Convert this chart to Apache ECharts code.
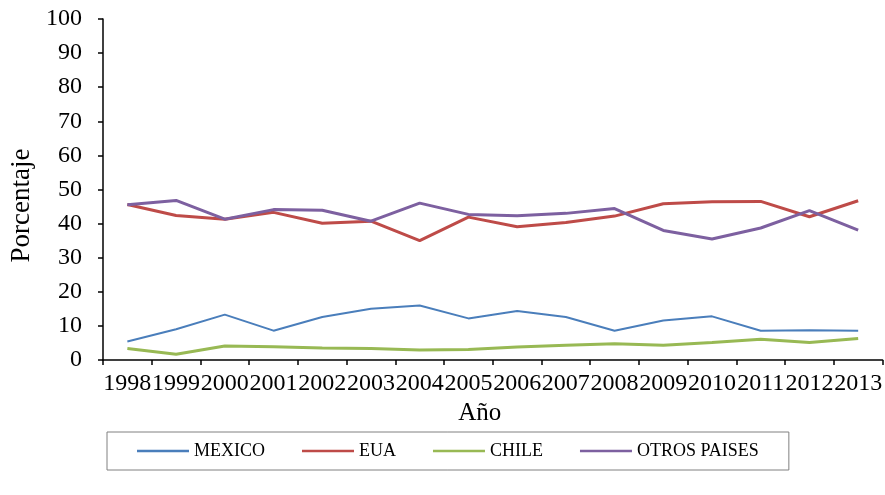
<!DOCTYPE html>
<html>
<head>
<meta charset="utf-8">
<script src="https://cdn.jsdelivr.net/npm/echarts@6/dist/echarts.min.js"></script>
<style>
  html, body { margin: 0; padding: 0; background: #ffffff; }
  #chart { width: 885px; height: 495px; }
</style>
</head>
<body>
<div id="chart"></div>
<script>
// Participación porcentual por destino, 1998-2013
const years = ['1998', '1999', '2000', '2001', '2002', '2003', '2004', '2005',
               '2006', '2007', '2008', '2009', '2010', '2011', '2012', '2013'];
const mexico = [5.4, 9.0, 13.3, 8.6, 12.6, 15.0, 16.0, 12.2, 14.4, 12.6, 8.6, 11.6, 12.8, 8.6, 8.7, 8.6];
const eua    = [45.6, 42.4, 41.3, 43.3, 40.1, 40.7, 35.0, 41.9, 39.1, 40.3, 42.2, 45.8, 46.4, 46.5, 42.0, 46.7];
const chile  = [3.4, 1.7, 4.1, 3.9, 3.5, 3.4, 2.9, 3.1, 3.8, 4.3, 4.8, 4.3, 5.1, 6.1, 5.1, 6.3];
const otros  = [45.5, 46.8, 41.3, 44.1, 43.9, 40.7, 46.0, 42.7, 42.3, 43.0, 44.4, 38.0, 35.5, 38.7, 43.8, 38.1];
const yTicks = { min: 0, max: 100, interval: 10 };

const serif = "'Liberation Serif', 'Times New Roman', serif";

function line(name, data, color, width) {
  return {
    name: name,
    type: 'line',
    data: data,
    symbol: 'none',
    lineStyle: { color: color, width: width },
    itemStyle: { color: color }
  };
}

const chart = echarts.init(document.getElementById('chart'), null, { renderer: 'canvas' });
chart.setOption({
  animation: false,
  backgroundColor: '#ffffff',
  textStyle: { fontFamily: serif, color: '#000000' },
  grid: { left: 100, right: 0, top: 19, bottom: 135 },
  legend: {
    left: 107,
    top: 432,
    padding: [9, 30, 9, 30],
    borderColor: '#808080',
    borderWidth: 1,
    itemGap: 37,
    itemWidth: 52,
    itemHeight: 2.5,
    icon: 'rect',
    textStyle: { fontFamily: serif, fontSize: 18, color: '#000000', lineHeight: 20 },
    data: ['MEXICO', 'EUA', 'CHILE', 'OTROS PAISES']
  },
  xAxis: {
    type: 'category',
    data: years,
    boundaryGap: true,
    name: 'Año',
    nameLocation: 'middle',
    nameGap: 27,
    nameTextStyle: { fontFamily: serif, fontSize: 25, color: '#000000', padding: [0, 26, 0, 0] },
    axisLine: { lineStyle: { color: '#000000', width: 1.5 } },
    axisTick: { show: true, inside: false, length: 5, alignWithLabel: false, interval: 0,
                lineStyle: { color: '#000000', width: 1.5 } },
    axisLabel: { interval: 0, margin: 12, fontFamily: serif, fontSize: 24, color: '#000000', hideOverlap: false },
    splitLine: { show: false }
  },
  yAxis: {
    type: 'value',
    min: yTicks.min,
    max: yTicks.max,
    interval: yTicks.interval,
    name: 'Porcentaje',
    nameLocation: 'middle',
    nameGap: 68,
    nameRotate: 90,
    nameTextStyle: { fontFamily: serif, fontSize: 27, color: '#000000', padding: [0, 32, 0, 0] },
    axisLine: { show: true, lineStyle: { color: '#000000', width: 1.5 } },
    axisTick: { show: true, inside: false, length: 5, lineStyle: { color: '#000000', width: 1.5 } },
    axisLabel: { margin: 21, fontFamily: serif, fontSize: 24, color: '#000000' },
    splitLine: { show: false }
  },
  series: [
    line('MEXICO', mexico, '#4a7ebb', 2),
    line('EUA', eua, '#be4b48', 3),
    line('CHILE', chile, '#98b954', 3),
    line('OTROS PAISES', otros, '#7d60a0', 3)
  ]
});
</script>
</body>
</html>
